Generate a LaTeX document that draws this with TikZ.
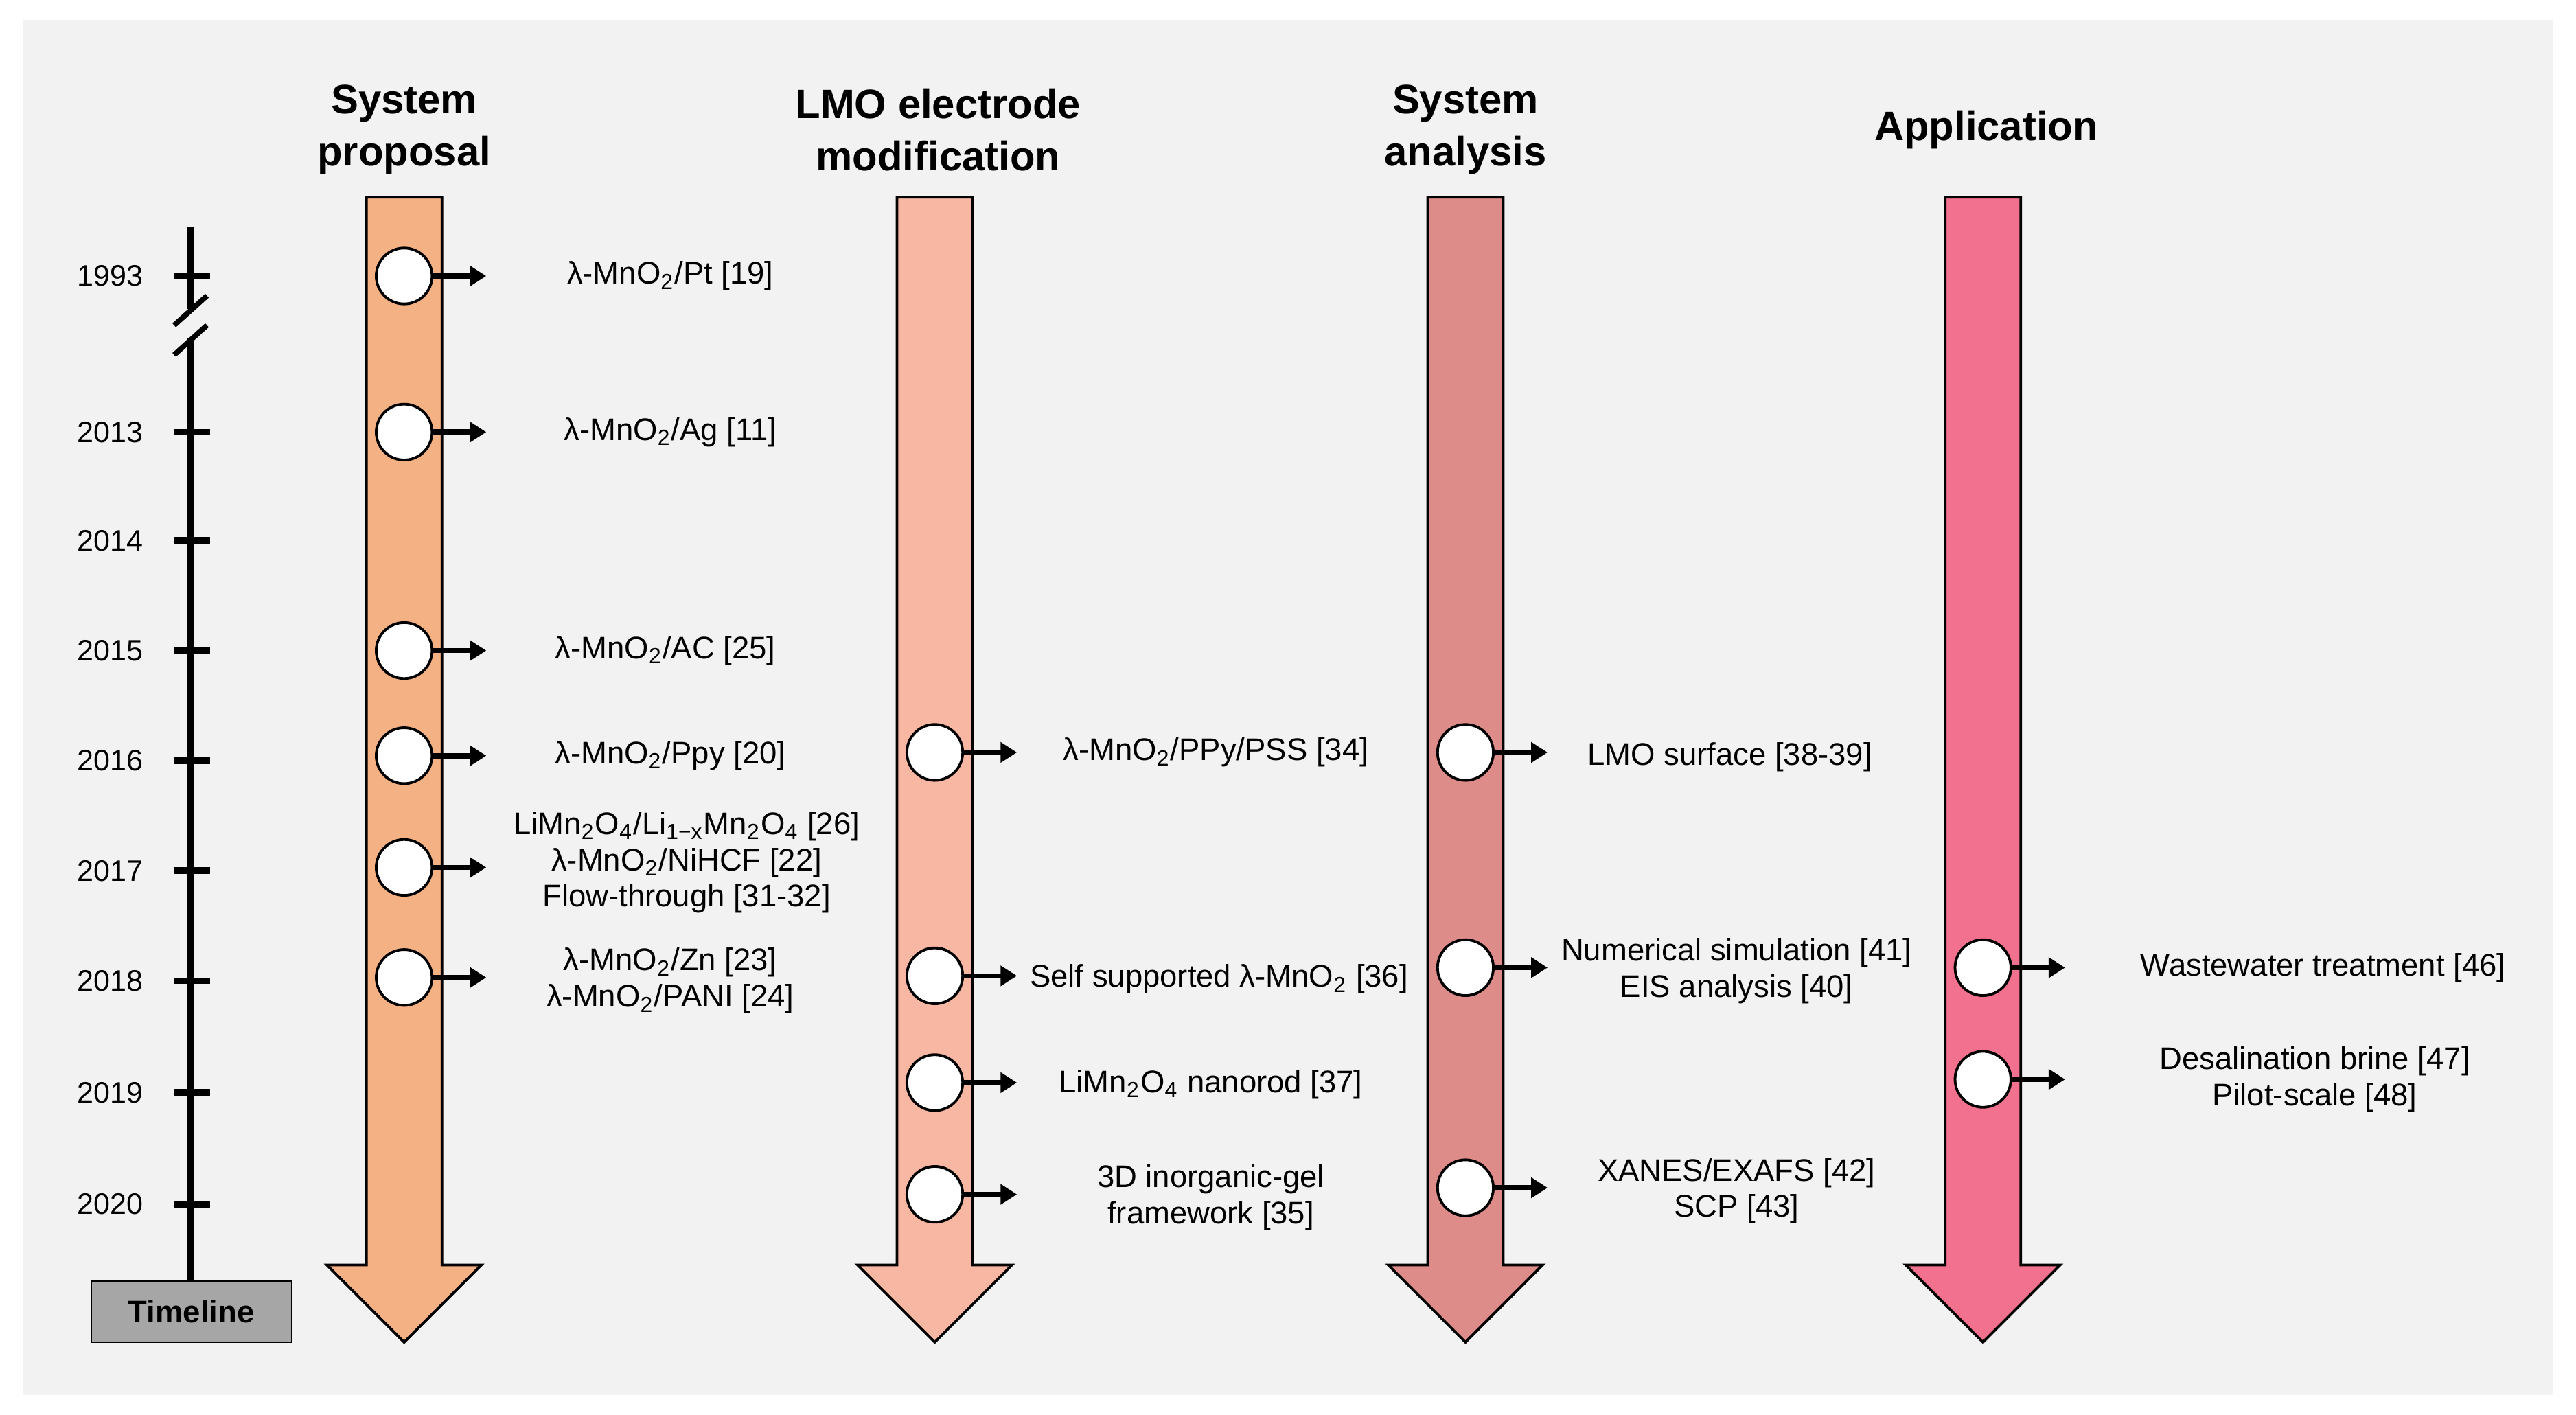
\documentclass[tikz,border=0pt]{standalone}
\usepackage{fontspec}
\setmainfont{Liberation Sans}
\usetikzlibrary{arrows.meta}
\newcommand{\sub}[1]{\textsubscript{#1}}
\newcommand{\lm}{λ-MnO\sub{2}}
\begin{document}
\begin{tikzpicture}[x=0.5pt,y=-0.5pt,
 lab/.style={font=\fontsize{9.5}{12}\selectfont,align=center,inner sep=0},
 head/.style={font=\fontsize{12.5}{16}\selectfont\bfseries,align=center,inner sep=0},
 yr/.style={font=\fontsize{9}{11}\selectfont,inner sep=0},
 dot/.style={circle,draw=black,fill=white,line width=0.8pt,minimum size=17pt,inner sep=0},
 pt/.style={-{Triangle[length=5pt,width=6pt]},line width=1.6pt},
 bigarrow/.style={draw=black,line width=0.8pt}]
\useasboundingbox (0,0) rectangle (1568,861);
\fill[white] (0,0) rectangle (1568,861);
\fill[black!5] (14,12) rectangle (1554,849);
% timeline
\draw[line width=2pt] (116,138) -- (116,188);
\draw[line width=2pt] (116,206) -- (116,780);
\draw[line width=1.6pt] (106,198) -- (126,180);
\draw[line width=1.6pt] (106,216) -- (126,198);
\foreach \y/\t in {168/1993,263/2013,329/2014,396/2015,463/2016,530/2017,597/2018,665/2019,733/2020}{
 \draw[line width=2pt] (106,\y) -- (128,\y);
 \node[yr] at (67,\y) {\t};}
\node[draw=black,fill=black!35,minimum width=61pt,minimum height=18.5pt,inner sep=0,font=\fontsize{9.5}{12}\selectfont\bfseries] (tl) at (116.5,798.5) {Timeline};
% big arrows
\foreach \c/\col in {246/F4B183,569/F8B7A2,892/DE8C8A,1207/F1718E}{
 \definecolor{ac}{HTML}{\col}
 \filldraw[bigarrow,fill=ac] (\c-23,120) -- (\c+23,120) -- (\c+23,770) -- (\c+47,770) -- (\c,817) -- (\c-47,770) -- (\c-23,770) -- cycle;}
\node[head] at (246,79) {System\\proposal};
\node[head] at (571,79) {LMO electrode\\modification};
\node[head] at (892,79) {System\\analysis};
\node[head] at (1209,79) {Application};
% entries
\foreach \n/\x/\y in {a/246/168,b/246/263,c/246/396,d/246/460,e/246/528,f/246/595,
 g/569/458,h/569/594,i/569/659,j/569/727,k/892/458,l/892/589,m/892/723,n/1207/589,o/1207/657}{
 \node[dot] (\n) at (\x,\y) {};
 \coordinate (\n e) at (\x+50,\y);
 \draw[pt] (\n.east) -- (\n e);}
\node[lab] at (408,168) {\lm/Pt [19]};
\node[lab] at (408,263) {\lm/Ag [11]};
\node[lab] at (405,396) {\lm/AC [25]};
\node[lab] at (408,460) {\lm/Ppy [20]};
\node[lab] at (418,525) {LiMn\sub{2}O\sub{4}/Li\sub{1−x}Mn\sub{2}O\sub{4} [26]\\[-1pt]\lm/NiHCF [22]\\[-1pt]Flow-through [31-32]};
\node[lab] at (408,597) {\lm/Zn [23]\\[-1pt]\lm/PANI [24]};
\node[lab] at (740,458) {\lm/PPy/PSS [34]};
\node[lab] at (742,596) {Self supported \lm{} [36]};
\node[lab] at (737,660) {LiMn\sub{2}O\sub{4} nanorod [37]};
\node[lab] at (737,729) {3D inorganic-gel\\[-1pt]framework [35]};
\node[lab] at (1053,461) {LMO surface [38-39]};
\node[lab] at (1057,591) {Numerical simulation [41]\\[-1pt]EIS analysis [40]};
\node[lab] at (1057,725) {XANES/EXAFS [42]\\[-1pt]SCP [43]};
\node[lab] at (1414,589) {Wastewater treatment [46]};
\node[lab] at (1409,657) {Desalination brine [47]\\[-1pt]Pilot-scale [48]};
\end{tikzpicture}
\end{document}
